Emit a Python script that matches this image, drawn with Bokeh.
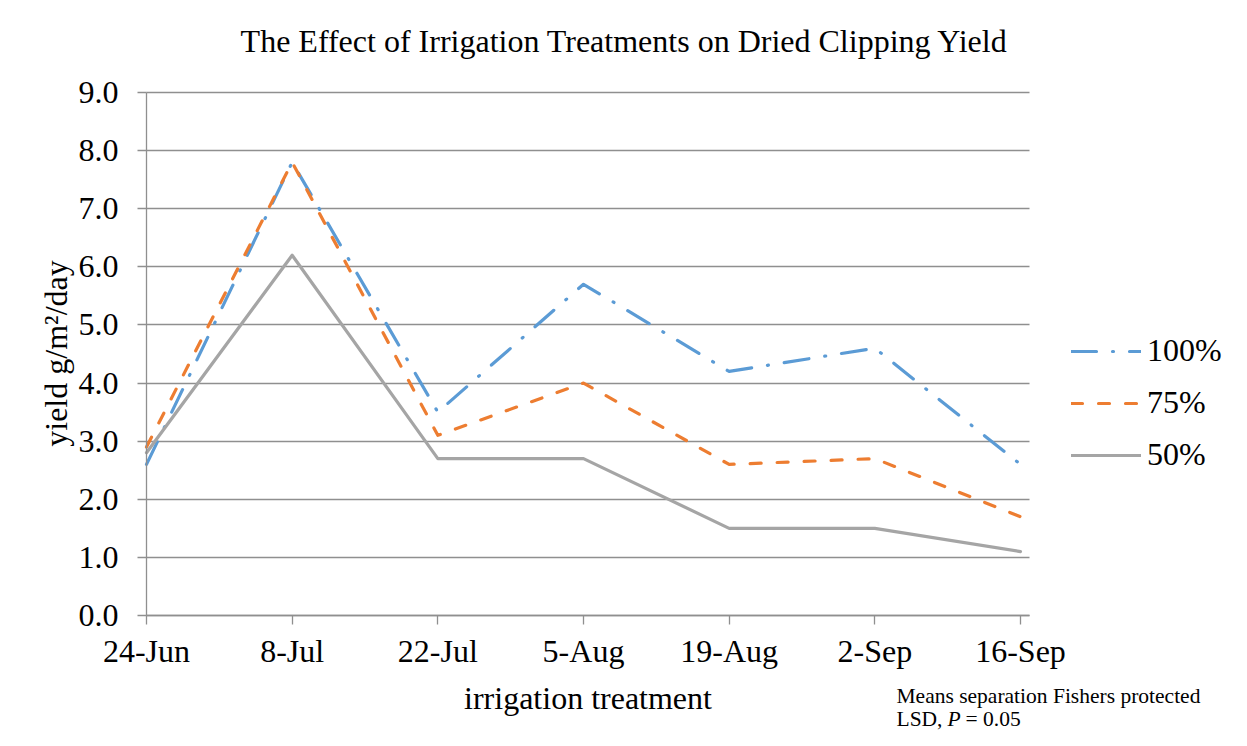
import math
from bokeh.plotting import figure
from bokeh.models import (Range1d, FixedTicker, Legend, LegendItem, Label, Grid, BoxAnnotation)
from bokeh.embed import file_html
from bokeh.resources import INLINE

# ---- data ----
dates = ["24-Jun", "8-Jul", "22-Jul", "5-Aug", "19-Aug", "2-Sep", "16-Sep"]
y100 = [2.6, 7.8, 3.5, 5.7, 4.2, 4.6, 2.6]
y75 = [2.9, 7.8, 3.1, 4.0, 2.6, 2.7, 1.7]
y50 = [2.8, 6.2, 2.7, 2.7, 1.5, 1.5, 1.1]
yticks = [0, 1, 2, 3, 4, 5, 6, 7, 8, 9]
series_names = ["100%", "75%", "50%"]
title_text = "The Effect of Irrigation Treatments on Dried Clipping Yield"
x_title = "irrigation treatment"
y_title = "yield g/m²/day"
note_line1 = "Means separation Fishers protected"

FONT = "Liberation Serif"
BIG = "32px"
SMALL = "21.5px"
GRID = "#8f8f8f"

# layout in pixels
W, H = 1231, 730
FL = 146            # y-axis position
PR = 1029           # right end of plot area
PT, PB = 92, 615    # top (9.0) and bottom (0.0) of plot area
LAST = 1020         # pixel of the last category

xs = list(range(len(dates)))
xscale = (LAST - FL) / (len(dates) - 1)
yscale = (PB - PT) / (yticks[-1] - yticks[0])
x_plot_end = (PR - FL) / xscale
x_start = -FL / xscale
x_end = (W - FL) / xscale
y_start = -(H - PB) / yscale
y_end = yticks[-1] + PT / yscale

def px_x(px):
    return (px - FL) / xscale
def px_y(py):
    return (PB - py) / yscale

p = figure(width=W, height=H, output_backend="svg", toolbar_location=None, title=None,
           x_range=Range1d(x_start, x_end), y_range=Range1d(y_start, y_end),
           min_border_left=0, min_border_right=0, min_border_top=0, min_border_bottom=0)
p.outline_line_color = None
p.background_fill_color = "white"
p.border_fill_color = "white"

# grid
p.xgrid.grid_line_color = None
p.ygrid.grid_line_color = GRID
p.ygrid.grid_line_width = 1.3
p.ygrid.ticker = FixedTicker(ticks=yticks)
has_cross = "cross_bounds" in Grid.properties()
if has_cross:
    p.ygrid.cross_bounds = (0, x_plot_end)
else:
    for lft, rgt in ((None, 0), (x_plot_end, None)):
        p.add_layout(BoxAnnotation(left=lft, right=rgt, bottom=-0.03, top=yticks[-1] + 0.03,
                                   fill_color="white", fill_alpha=1.0, line_color=None,
                                   level="underlay"))

# axes (drawn at fixed positions inside the full-canvas frame)
p.yaxis.ticker = FixedTicker(ticks=yticks)
p.yaxis.major_label_overrides = {t: f"{t:.1f}" for t in yticks}
p.yaxis.bounds = (yticks[0], yticks[-1])
p.yaxis.fixed_location = 0
p.xaxis.ticker = FixedTicker(ticks=xs)
p.xaxis.major_label_overrides = {i: d for i, d in enumerate(dates)}
p.xaxis.bounds = (0, x_plot_end)
p.xaxis.fixed_location = 0
for ax in (p.xaxis, p.yaxis):
    ax.axis_line_color = GRID
    ax.axis_line_width = 1.3
    ax.major_tick_line_color = GRID
    ax.major_tick_line_width = 1.3
    ax.major_tick_in = 0
    ax.major_tick_out = 9
    ax.minor_tick_line_color = None
    ax.major_label_text_font = FONT
    ax.major_label_text_font_size = BIG
    ax.major_label_text_color = "black"
    ax.axis_label_text_font = FONT
    ax.axis_label_text_font_size = BIG
    ax.axis_label_text_font_style = "normal"
    ax.axis_label_text_color = "black"
p.xaxis.major_label_standoff = 8
p.yaxis.major_label_standoff = 19
p.xaxis.axis_label = x_title
p.xaxis.axis_label_standoff = 8

# lines
r100 = p.line(xs, y100, line_color="#5B9BD5", line_width=3.2,
              line_dash="25 16 1 16", line_cap="round", line_join="round")
r75 = p.line(xs, y75, line_color="#ED7D31", line_width=3.2,
             line_dash="11 16", line_cap="round", line_join="round")
r50 = p.line(xs, y50, line_color="#A5A5A5", line_width=3.2,
             line_cap="round", line_join="round")

legend = Legend(items=[LegendItem(label=series_names[0], renderers=[r100]),
                       LegendItem(label=series_names[1], renderers=[r75]),
                       LegendItem(label=series_names[2], renderers=[r50])],
                location=(1071, H - 473), orientation="vertical",
                glyph_width=70, glyph_height=36, label_standoff=6,
                spacing=15, padding=0, margin=0,
                border_line_color=None, background_fill_alpha=0,
                label_text_font=FONT, label_text_font_size=BIG,
                label_text_color="black")
p.add_layout(legend, "center")

# title and y-axis title (positions are text centres)
p.add_layout(Label(x=px_x(624), y=px_y(40), text=title_text,
                   text_font=FONT, text_font_size=BIG, text_align="center",
                   text_baseline="middle", text_color="black"))
p.add_layout(Label(x=px_x(55), y=px_y(353), text=y_title, angle=math.pi / 2,
                   text_font=FONT, text_font_size=BIG, text_align="center",
                   text_baseline="middle", text_color="black"))

# footnote
foot = dict(text_font=FONT, text_font_size=SMALL, text_baseline="middle",
            text_color="black")
p.add_layout(Label(x=px_x(896), y=px_y(695), text=note_line1, **foot))
p.add_layout(Label(x=px_x(896), y=px_y(718), text="LSD, ", **foot))
p.add_layout(Label(x=px_x(947), y=px_y(718), text="P", text_font_style="italic", **foot))
p.add_layout(Label(x=px_x(965), y=px_y(718), text="= 0.05", **foot))

open("out.html", "w").write(file_html(p, INLINE))
